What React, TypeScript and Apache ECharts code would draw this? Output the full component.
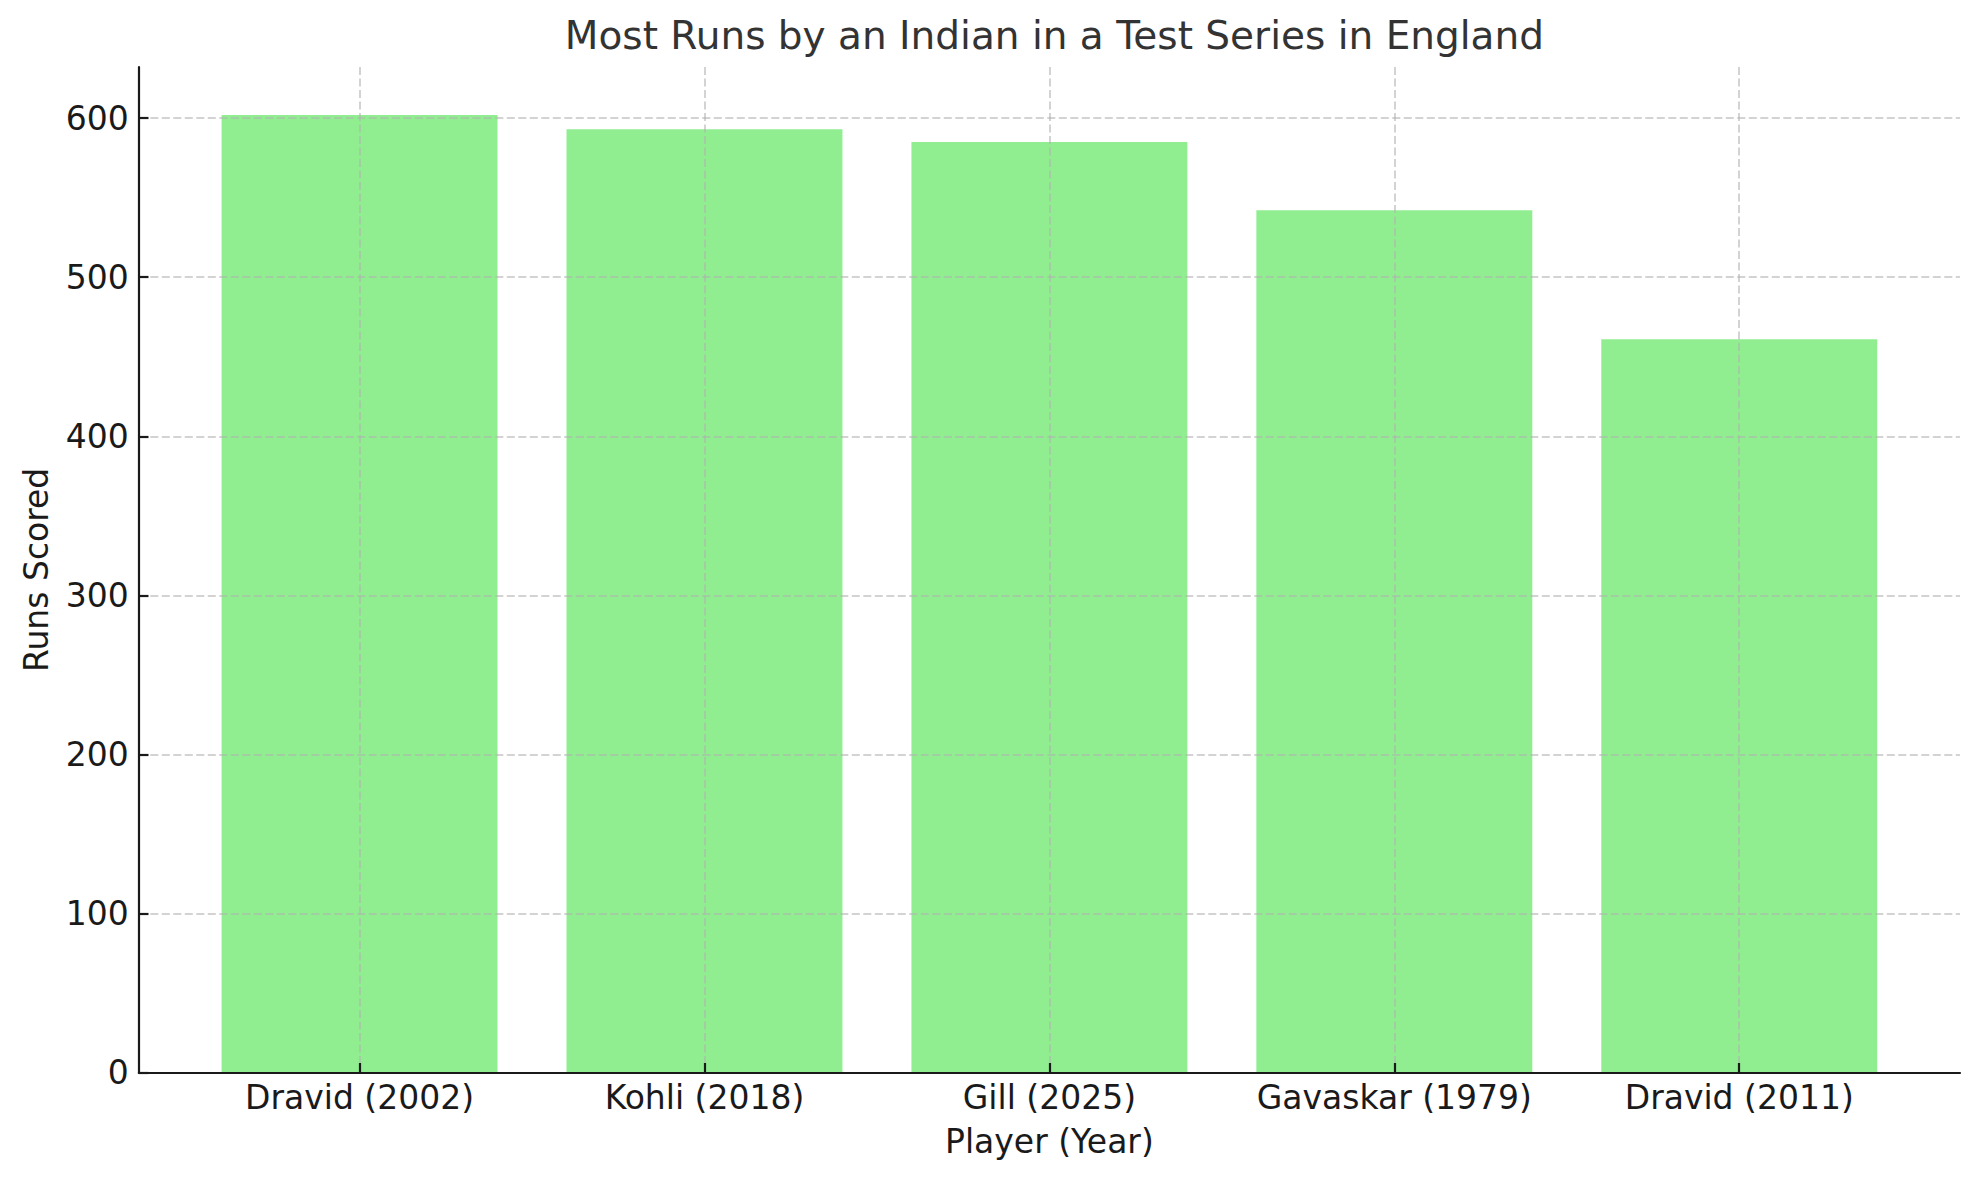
import React, { useEffect, useRef } from "react";
import * as echarts from "echarts";

const categories = ["Dravid (2002)", "Kohli (2018)", "Gill (2025)", "Gavaskar (1979)", "Dravid (2011)"];
const runs = [602, 593, 585, 542, 461];
const yTicks = [0, 100, 200, 300, 400, 500, 600];

const W = 1979;
const H = 1180;
const PLOT_L = 138.8;
const PLOT_R = 1960;
const PLOT_T = 67;
const PLOT_B = 1072.7;
const X_MIN = -0.64;
const X_MAX = 4.64;
const Y_MAX = 632.1;

export default function App() {
  const ref = useRef<HTMLDivElement>(null);
  useEffect(() => {
    document.body.style.margin = "0";
    const chart = echarts.init(ref.current!, null, { renderer: "svg" });
    const pxPerUnit = (PLOT_R - PLOT_L) / (X_MAX - X_MIN);
    const x0 = PLOT_L + (0 - X_MIN) * pxPerUnit;
    const x4 = PLOT_L + (categories.length - 1 - X_MIN) * pxPerUnit;
    const y600 = PLOT_B - (600 / Y_MAX) * (PLOT_B - PLOT_T);
    const font = "DejaVu Sans";
    const gridLine = { show: true, lineStyle: { color: "rgba(176,176,176,0.75)", width: 1.5, type: [8, 3.5] as any } };
    const option: any = {
      animation: false,
      backgroundColor: "#ffffff",
      title: {
        text: "Most Runs by an Indian in a Test Series in England",
        left: (PLOT_L + PLOT_R) / 2,
        textAlign: "center",
        top: 11,
        textStyle: { fontFamily: font, fontSize: 39, fontWeight: "normal", color: "#333333" },
      },
      grid: [
        { left: PLOT_L, right: W - PLOT_R, top: PLOT_T, bottom: H - PLOT_B },
        { left: PLOT_L, right: W - PLOT_R, top: y600, bottom: H - PLOT_B },
        { left: x0, right: W - x4, top: PLOT_T, bottom: H - PLOT_B },
      ],
      xAxis: [
        {
          type: "value", gridIndex: 0, min: X_MIN, max: X_MAX, z: 4,
          axisLine: { show: true, onZero: false, lineStyle: { color: "#1a1a1a", width: 2.2 } },
          axisTick: { show: false }, axisLabel: { show: false }, splitLine: { show: false },
        },
        {
          type: "value", gridIndex: 1, min: 0, max: 1, show: false,
        },
        {
          type: "category", gridIndex: 2, data: categories, boundaryGap: false, z: 3,
          name: "Player (Year)", nameLocation: "middle", nameGap: 52,
          nameTextStyle: { fontFamily: font, fontSize: 33, color: "#1a1a1a" },
          axisLine: { show: false },
          axisTick: { show: true, inside: true, length: 9.7, lineStyle: { color: "#1a1a1a", width: 2.2 } },
          axisLabel: { fontFamily: font, fontSize: 33, color: "#1a1a1a", margin: 8, interval: 0 },
          splitLine: { ...gridLine, interval: 0 },
        },
      ],
      yAxis: [
        {
          type: "value", gridIndex: 0, min: 0, max: Y_MAX, z: 4,
          name: "Runs Scored", nameLocation: "middle", nameGap: 86,
          nameTextStyle: { fontFamily: font, fontSize: 33, color: "#1a1a1a" },
          axisLine: { show: true, onZero: false, lineStyle: { color: "#1a1a1a", width: 2.2 } },
          axisTick: { show: false }, axisLabel: { show: false }, splitLine: { show: false },
        },
        {
          type: "value", gridIndex: 1, min: yTicks[0], max: yTicks[yTicks.length - 1], interval: 100, z: 3,
          axisLine: { show: false, onZero: false },
          axisTick: { show: true, inside: true, length: 9.7, lineStyle: { color: "#1a1a1a", width: 2.2 } },
          axisLabel: { fontFamily: font, fontSize: 33, color: "#1a1a1a", margin: 10 },
          splitLine: gridLine,
        },
        {
          type: "value", gridIndex: 2, min: 0, max: Y_MAX, show: false,
        },
      ],
      series: [
        {
          type: "bar",
          xAxisIndex: 0,
          yAxisIndex: 0,
          barWidth: 0.8 * pxPerUnit,
          itemStyle: { color: "#90EE90" },
          data: runs.map((v, i) => [i, v]),
          z: 2,
        },
      ],
    };
    chart.setOption(option);
    return () => chart.dispose();
  }, []);
  return <div ref={ref} style={{ width: W, height: H }} />;
}
